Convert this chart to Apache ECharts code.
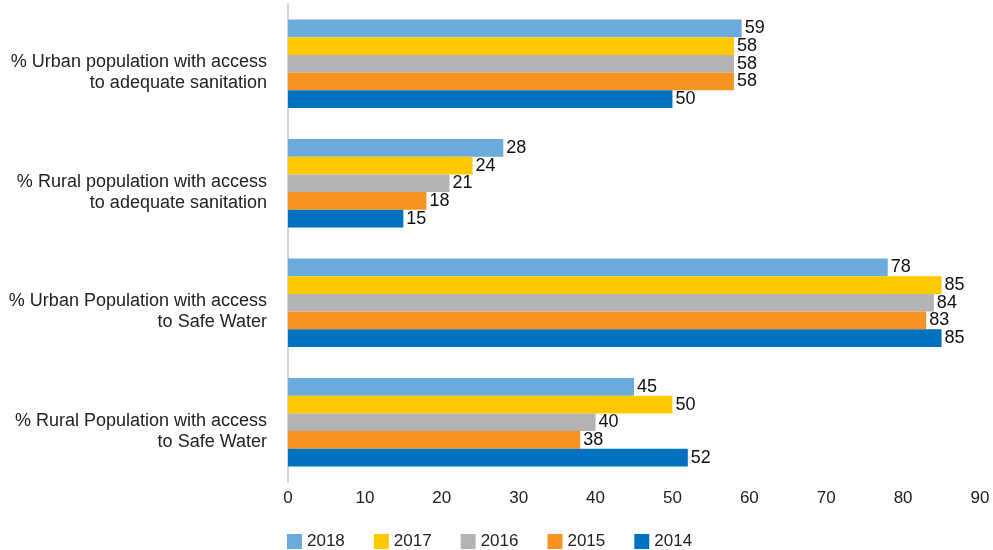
<!DOCTYPE html>
<html>
<head>
<meta charset="utf-8">
<script src="https://cdn.jsdelivr.net/npm/echarts@6/dist/echarts.min.js"></script>
<style>
  html, body { margin: 0; padding: 0; background: #fff; }
  #chart { width: 993px; height: 550px; }
</style>
</head>
<body>
<div id="chart"></div>
<script>
// Access indicators (percent), one array per year
const categories = [
  '% Urban population with access\nto adequate sanitation',
  '% Rural population with access\nto adequate sanitation',
  '% Urban Population with access\nto Safe Water',
  '% Rural Population with access\nto Safe Water'
];
const years = ['2018', '2017', '2016', '2015', '2014'];
const values2018 = [59, 28, 78, 45];
const values2017 = [58, 24, 85, 50];
const values2016 = [58, 21, 84, 40];
const values2015 = [58, 18, 83, 38];
const values2014 = [50, 15, 85, 52];
const xTicks = { min: 0, max: 90, interval: 10 };

const yearValues = [values2018, values2017, values2016, values2015, values2014];
const colors = ['#6AABDB', '#FFC900', '#B3B3B3', '#F79421', '#0071BE'];
const font = 'Arial, "Liberation Sans", sans-serif';

const chart = echarts.init(document.getElementById('chart'));
chart.setOption({
  animation: false,
  textStyle: { fontFamily: font },
  grid: { left: 288, right: 13, top: 4, height: 478 },
  legend: {
    data: years,
    left: 287,
    top: 533,
    padding: 0,
    itemWidth: 15,
    itemHeight: 15,
    itemGap: 29,
    icon: 'rect',
    textStyle: { fontSize: 17, color: '#222', fontFamily: font }
  },
  xAxis: {
    type: 'value',
    min: xTicks.min,
    max: xTicks.max,
    interval: xTicks.interval,
    axisLine: { show: false },
    axisTick: { show: false },
    splitLine: { show: false },
    axisLabel: { fontSize: 17, color: '#222', margin: 8, fontFamily: font }
  },
  yAxis: {
    type: 'category',
    data: categories,
    inverse: true,
    axisLine: { show: true, lineStyle: { color: '#D6D6D6', width: 2 } },
    axisTick: { show: false },
    axisLabel: {
      fontSize: 18,
      color: '#222',
      margin: 21,
      align: 'right',
      lineHeight: 21,
      fontFamily: font,
      // a short blank first row nudges the two text lines below the band centre
      formatter: (v) => '{gap| }\n' + v,
      rich: { gap: { fontSize: 4, lineHeight: 18 } }
    }
  },
  series: years.map((y, i) => ({
    name: y,
    type: 'bar',
    data: yearValues[i],
    barGap: '0%',
    barCategoryGap: '26%',
    itemStyle: { color: colors[i] },
    label: {
      show: true,
      position: 'right',
      distance: 3,
      fontSize: 18,
      color: '#111',
      fontFamily: font
    }
  }))
});
</script>
</body>
</html>
